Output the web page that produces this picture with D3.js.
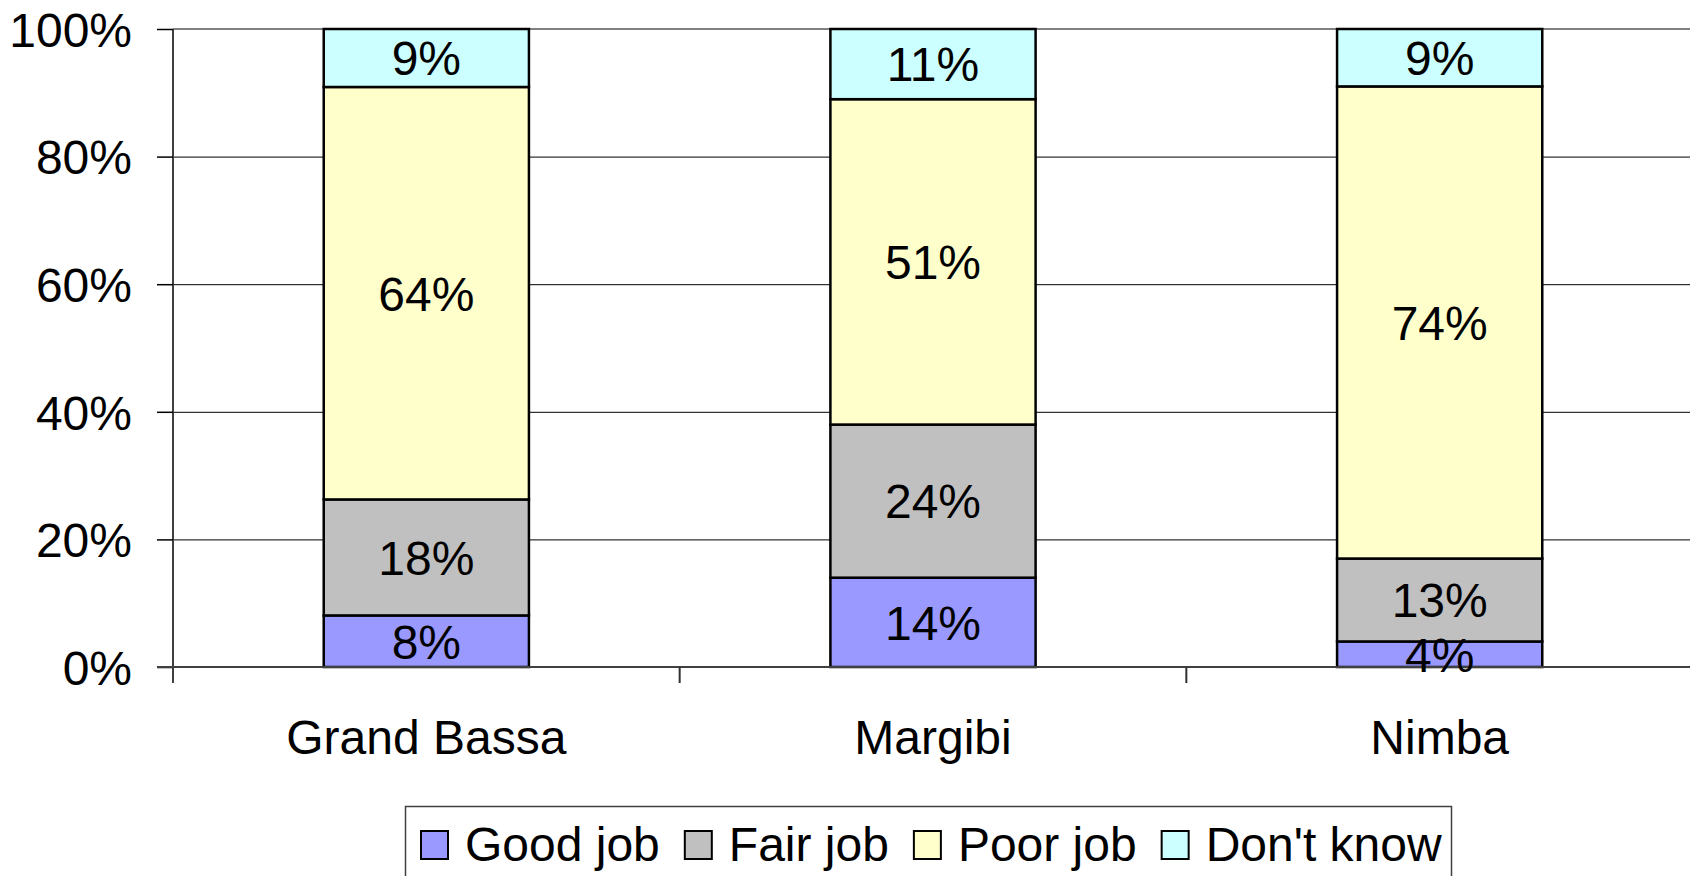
<!DOCTYPE html>
<html>
<head>
<meta charset="utf-8">
<script src="https://cdn.jsdelivr.net/npm/d3@7"></script>
<style>
  html, body { margin: 0; padding: 0; background: #fff; overflow: hidden; }
  text { font-family: "Liberation Sans", Arial, sans-serif; fill: #000; }
</style>
</head>
<body>
<svg id="chart" width="1690" height="876"></svg>
<script>
const categories = ["Grand Bassa", "Margibi", "Nimba"];
const seriesNames = ["Good job", "Fair job", "Poor job", "Don't know"];
const goodJob   = [8, 14, 4];
const fairJob   = [18, 24, 13];
const poorJob   = [64, 51, 74];
const dontKnow  = [9, 11, 9];
const seriesColors = ["#9999FF", "#C0C0C0", "#FFFFCC", "#CCFFFF"];
const yTicks = [0, 0.2, 0.4, 0.6, 0.8, 1];

(function () {
const seriesValues = [goodJob, fairJob, poorJob, dontKnow];
const rows = categories.map((c, i) => {
  const r = { category: c };
  seriesNames.forEach((s, j) => r[s] = seriesValues[j][i]);
  return r;
});

const svg = d3.select("#chart");
const mLeft = 173, mRight = 1693, mTop = 29, mBottom = 667;
const fontSize = 48;

const x = d3.scaleBand().domain(categories).range([mLeft, mRight]).padding(0);
const y = d3.scaleLinear().domain([0, 1]).range([mBottom, mTop]);

const stack = d3.stack().keys(seriesNames).offset(d3.stackOffsetExpand);
const stacked = stack(rows);

// gridlines
svg.append("g")
  .attr("transform", `translate(${mLeft},0)`)
  .call(d3.axisLeft(y).tickValues(yTicks.filter(t => t > 0 && t < 1)).tickSize(-(1690 - mLeft)).tickFormat(""))
  .call(g => g.select(".domain").remove())
  .call(g => g.selectAll(".tick line").attr("stroke", "#000").attr("stroke-width", 1));

// top border line (100%)
svg.append("line")
  .attr("x1", mLeft).attr("x2", 1690).attr("y1", y(1)).attr("y2", y(1))
  .attr("stroke", "#808080").attr("stroke-width", 2);

// y axis
const yAxis = svg.append("g")
  .attr("transform", `translate(${mLeft},0)`)
  .call(d3.axisLeft(y).tickValues(yTicks).tickFormat(d3.format(".0%")).tickSize(16).tickPadding(25));
yAxis.select(".domain").attr("stroke", "#404040").attr("stroke-width", 2)
  .attr("d", `M0,${mTop}V${mBottom + 16}`);
yAxis.selectAll(".tick line").attr("stroke", "#000").attr("stroke-width", 1.5);
yAxis.selectAll(".tick text")
  .style("font-size", fontSize + "px")
  .style("font-family", "'Liberation Sans', Arial, sans-serif")
  .attr("dy", "0.36em");

// bars
const barW = x.bandwidth() * 0.405;
const layers = svg.append("g").selectAll("g")
  .data(stacked).join("g")
  .attr("fill", (d, i) => seriesColors[i]);
layers.selectAll("rect")
  .data(d => d.map(p => ({ p, key: d.key })))
  .join("rect")
  .attr("x", d => x(d.p.data.category) + (x.bandwidth() - barW) / 2)
  .attr("width", barW)
  .attr("y", d => y(d.p[1]))
  .attr("height", d => y(d.p[0]) - y(d.p[1]))
  .attr("stroke", "#000")
  .attr("stroke-width", 2.5);

// x axis line (0%)
svg.append("line")
  .attr("x1", mLeft - 16).attr("x2", 1690).attr("y1", y(0)).attr("y2", y(0))
  .attr("stroke", "#404040").attr("stroke-width", 2);

// x axis ticks at band boundaries
const boundaries = categories.map(c => x(c)).concat([x(categories[categories.length - 1]) + x.bandwidth()]);
svg.append("g").selectAll("line")
  .data(boundaries.slice(1)).join("line")
  .attr("x1", d => d).attr("x2", d => d)
  .attr("y1", y(0)).attr("y2", y(0) + 16)
  .attr("stroke", "#303030").attr("stroke-width", 2);

// category labels
svg.append("g").selectAll("text")
  .data(categories).join("text")
  .attr("x", d => x(d) + x.bandwidth() / 2)
  .attr("y", 754)
  .attr("text-anchor", "middle")
  .style("font-size", fontSize + "px")
  .text(d => d);

// data labels
stacked.forEach((layer) => {
  svg.append("g").selectAll("text")
    .data(layer).join("text")
    .attr("x", d => x(d.data.category) + x.bandwidth() / 2)
    .attr("y", d => (y(d[0]) + y(d[1])) / 2)
    .attr("dy", "0.36em")
    .attr("text-anchor", "middle")
    .style("font-size", fontSize + "px")
    .text(d => d.data[layer.key] + "%");
});

// legend
const legendFont = 48;
const legend = svg.append("g");
legend.append("rect")
  .attr("x", 405.5).attr("y", 806.5)
  .attr("width", 1046).attr("height", 100)
  .attr("fill", "#fff").attr("stroke", "#404040").attr("stroke-width", 1.5);
let lx = 421;
seriesNames.forEach((name, i) => {
  legend.append("rect")
    .attr("x", lx).attr("y", 831).attr("width", 27).attr("height", 28)
    .attr("fill", seriesColors[i]).attr("stroke", "#000").attr("stroke-width", 2);
  const t = legend.append("text")
    .attr("x", lx + 44).attr("y", 861)
    .style("font-size", legendFont + "px")
    .text(name);
  lx = lx + 44 + t.node().getComputedTextLength() + 25;
});
})();
</script>
</body>
</html>
